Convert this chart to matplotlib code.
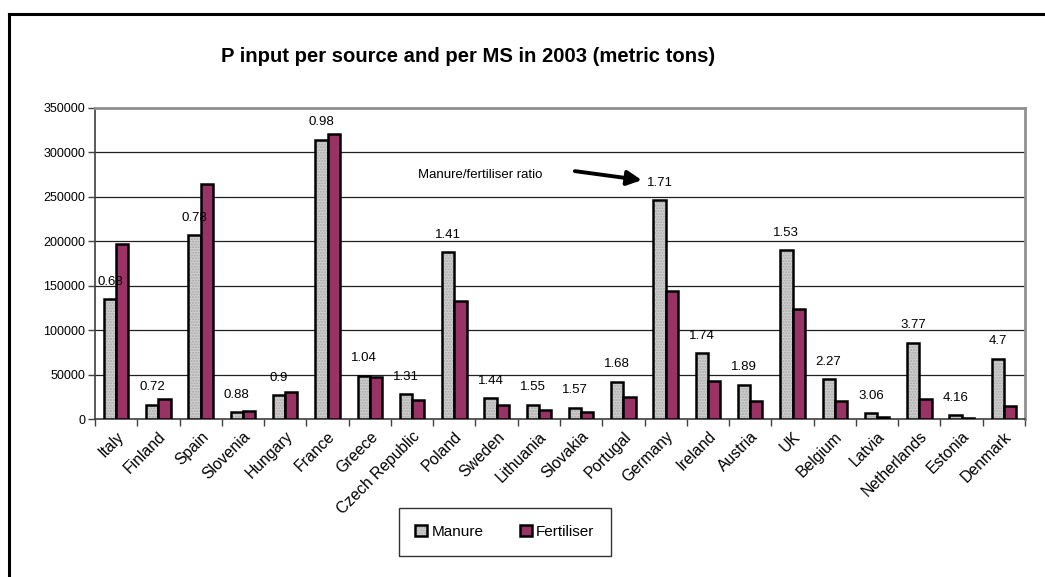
import matplotlib
matplotlib.use("Agg")
import matplotlib.pyplot as plt
import numpy as np
from matplotlib.patches import Patch
from matplotlib.legend_handler import HandlerTuple
from matplotlib.lines import Line2D

plt.rcParams['font.family'] = ['Liberation Sans', 'DejaVu Sans']

countries = ["Italy", "Finland", "Spain", "Slovenia", "Hungary", "France", "Greece",
             "Czech Republic", "Poland", "Sweden", "Lithuania", "Slovakia", "Portugal",
             "Germany", "Ireland", "Austria", "UK", "Belgium", "Latvia", "Netherlands",
             "Estonia", "Denmark"]
manure = [135000, 16300, 207000, 7800, 27000, 314500, 48600, 28000, 187800, 23300,
          16000, 12800, 42000, 246500, 73800, 38600, 190000, 45000, 6400, 86000,
          4500, 68000]
fertiliser = [197500, 22600, 264500, 8900, 30000, 321000, 46800, 21400, 133200, 16200,
              10300, 8150, 25000, 144000, 42400, 20400, 124200, 19800, 2100, 22800,
              1080, 14500]
ratios = ["0.68", "0.72", "0.78", "0.88", "0.9", "0.98", "1.04", "1.31", "1.41", "1.44",
          "1.55", "1.57", "1.68", "1.71", "1.74", "1.89", "1.53", "2.27", "3.06", "3.77",
          "4.16", "4.7"]
yticks = [0, 50000, 100000, 150000, 200000, 250000, 300000, 350000]

W, H = 1045, 577
fig = plt.figure(figsize=(W / 100, H / 100), dpi=100)
ax = fig.add_axes([95 / W, 1 - 419 / H, 930 / W, 311 / H])

x = np.arange(len(countries))
bw = 0.29
manure_face = '#cfcfcf'
fert_face = '#993366'

# manure: textured fill + black outline
ax.bar(x - bw / 2, manure, bw, color=manure_face, edgecolor='#a8a8a8', hatch='......',
       linewidth=0, zorder=3)
ax.bar(x - bw / 2, manure, bw, fill=False, edgecolor='black', linewidth=1.8, zorder=4)
ax.bar(x + bw / 2, fertiliser, bw, color=fert_face, edgecolor='black', linewidth=1.8, zorder=4)

for xi, m, r in zip(x, manure, ratios):
    ax.annotate(r, (xi - bw / 2, m), xytext=(0, 12.5), textcoords='offset points',
                ha='center', va='center', fontsize=9.5, zorder=6)

ax.set_xlim(-0.5, len(countries) - 0.5)
ax.set_ylim(0, 350000)
ax.set_yticks(yticks)
ax.set_yticklabels([str(v) for v in yticks], fontsize=9)
ax.yaxis.grid(True, color='#202020', linewidth=0.9, zorder=0)
ax.set_axisbelow(True)

ax.set_xticks(x)
ax.set_xticklabels(countries, rotation=45, ha='right', rotation_mode='anchor', fontsize=11.3)
ax.tick_params(axis='x', length=0, pad=7)
ax.set_xticks(np.arange(-0.5, len(countries)), minor=True)
ax.tick_params(axis='x', which='minor', length=5, width=1, color='#404040', direction='out')
ax.tick_params(axis='y', length=5, width=1, color='#404040', direction='out', pad=2)

for s in ['left', 'bottom']:
    ax.spines[s].set_color('#404040')
    ax.spines[s].set_linewidth(1.2)
for s in ['top', 'right']:
    ax.spines[s].set_color('#909090')
    ax.spines[s].set_linewidth(2)

# title
fig.text(468 / W, 1 - 56 / H, "P input per source and per MS in 2003 (metric tons)",
         ha='center', va='center', fontsize=14.6, fontweight='bold')

# annotation arrow
ax.text(0.347, 0.785, "Manure/fertiliser ratio", transform=ax.transAxes,
        ha='left', va='center', fontsize=9.5, zorder=6)
ax.annotate("", xy=(0.588, 0.768), xytext=(0.516, 0.797), xycoords='axes fraction',
            textcoords='axes fraction',
            arrowprops=dict(arrowstyle='-|>', lw=2.8, color='black', mutation_scale=22,
                            shrinkA=0, shrinkB=0), zorder=6)

# legend
h_man = (Patch(facecolor=manure_face, edgecolor='#a8a8a8', hatch='......', linewidth=0),
         Patch(fill=False, edgecolor='black', linewidth=1.8))
h_fer = Patch(facecolor=fert_face, edgecolor='black', linewidth=1.8)
leg = fig.legend([h_man, h_fer], ["Manure", "Fertiliser"], ncol=2,
                 loc='center', bbox_to_anchor=(505 / W, 1 - 532 / H),
                 fontsize=11, frameon=True, fancybox=False, shadow=False,
                 handlelength=0.75, handleheight=0.75, handletextpad=0.3,
                 columnspacing=2.4, borderpad=1.1, borderaxespad=0,
                 handler_map={tuple: HandlerTuple(ndivide=1, pad=0)})
leg.get_frame().set_edgecolor('black')
leg.get_frame().set_linewidth(1.0)

# outer border (left and top edges)
fig.add_artist(Line2D([9 / W, 9 / W], [0, 1 - 14 / H], transform=fig.transFigure,
                      color='black', linewidth=2.2))
fig.add_artist(Line2D([9 / W, 1], [1 - 14 / H, 1 - 14 / H], transform=fig.transFigure,
                      color='black', linewidth=2.2))

fig.savefig("out.png", dpi=100)
